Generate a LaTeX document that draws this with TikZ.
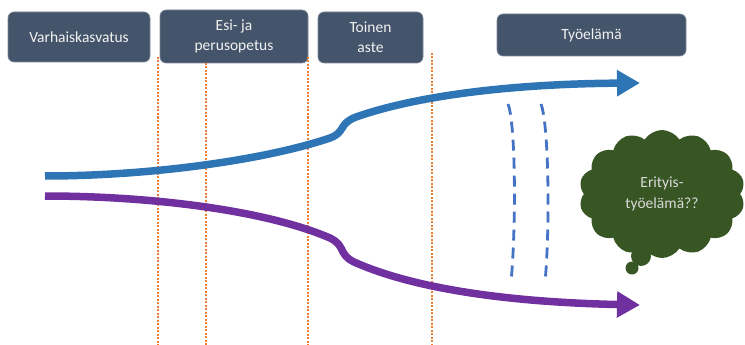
\documentclass[tikz,border=0pt]{standalone}
\usepackage{fontspec}
\setmainfont{Carlito}
\usetikzlibrary{arrows.meta,shapes.symbols}
\definecolor{boxc}{HTML}{44546A}
\definecolor{bluec}{HTML}{2E75B6}
\definecolor{purpc}{HTML}{7030A0}
\definecolor{orangec}{HTML}{ED7D31}
\definecolor{dashc}{HTML}{4472C4}
\definecolor{cloudc}{HTML}{375623}
\begin{document}
\begin{tikzpicture}[x=1pt,y=-1pt,
  stagebox/.style={draw=boxc!70!white,line width=0.6pt,fill=boxc,rounded corners=6pt,text=white!95!black,align=center,font=\fontsize{15.5}{20}\selectfont,inner sep=0pt},
  divider/.style={orangec,line width=1.4pt,dash pattern=on 2pt off 1.5pt},
  flow/.style={line width=7.5pt,-{Triangle[length=23pt,width=25pt]}},
  gap/.style={dashc,line width=2.8pt,dash pattern=on 11pt off 7pt},
  bubble/.style={circle,fill=cloudc,inner sep=0pt}]
\useasboundingbox (0,0) rectangle (745,345);
% stage boxes
\node[stagebox,minimum width=142pt,minimum height=50pt] (vk) at (79,37) {Varhaiskasvatus};
\node[stagebox,minimum width=148pt,minimum height=53pt] (ep) at (234,36.5) {Esi- ja\\perusopetus};
\node[stagebox,minimum width=105pt,minimum height=51pt] (ta) at (370.5,37.5) {Toinen\\aste};
\node[stagebox,minimum width=189pt,minimum height=42pt] (te) at (591.5,35) {Työelämä};
% dividers
\coordinate (d1t) at (158,57); \coordinate (d1b) at (158,345);
\coordinate (d2t) at (206,63); \coordinate (d2b) at (206,345);
\coordinate (d3t) at (308,57); \coordinate (d3b) at (308,345);
\coordinate (d4t) at (432,53); \coordinate (d4b) at (432,345);
\draw[divider] (d1t) -- (d1b);
\draw[divider] (d2t) -- (d2b);
\draw[divider] (d3t) -- (d3b);
\draw[divider] (d4t) -- (d4b);
% flows
\coordinate (bs) at (45,176);
\coordinate (be) at (640,83);
\draw[flow,bluec] (bs) .. controls (150,176) and (265,160) .. (330,138)
   .. controls (346,132) and (338,124) .. (356,117)
   .. controls (410,98) and (500,84) .. (be);
\coordinate (ps) at (45,196);
\coordinate (pe) at (640,305);
\draw[flow,purpc] (ps) .. controls (150,196) and (265,210) .. (330,238)
   .. controls (346,246) and (338,254) .. (354,262)
   .. controls (410,287) and (500,302) .. (pe);
% dashed gaps
\coordinate (g1t) at (508,104); \coordinate (g1b) at (511,282);
\coordinate (g2t) at (541,104); \coordinate (g2b) at (545,282);
\draw[gap] (g1t) .. controls (516,125) and (516,230) .. (g1b);
\draw[gap] (g2t) .. controls (549,125) and (550,230) .. (g2b);
% cloud
\node[bubble,minimum size=20pt] (b1) at (641,256) {};
\node[bubble,minimum size=13pt] (b2) at (632,268) {};
\node[cloud,cloud puffs=14,cloud puff arc=115,aspect=1.3,fill=cloudc,draw=none,minimum width=166pt,minimum height=128pt,text=white!85!black,align=center,font=\fontsize{15.5}{21}\selectfont,inner sep=0pt] (cl) at (662,194) {Erityis-\\työelämä??};
\end{tikzpicture}
\end{document}
